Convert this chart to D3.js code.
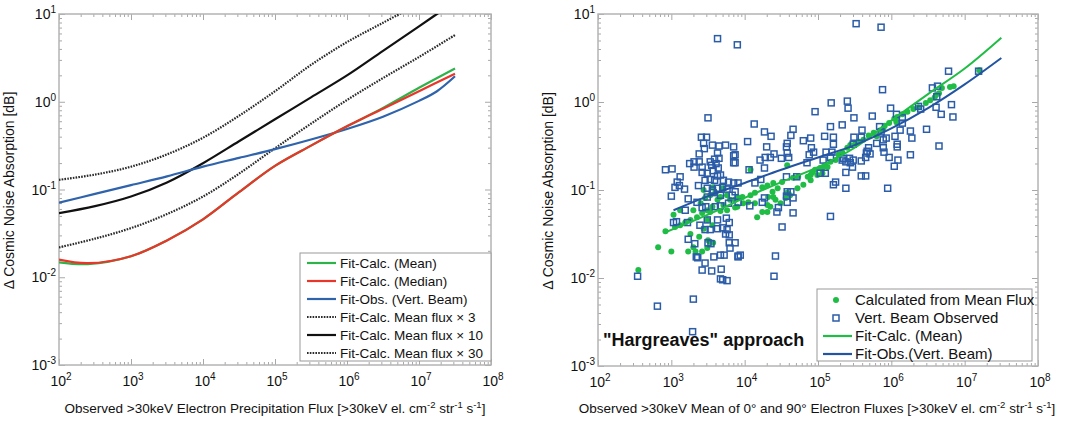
<!DOCTYPE html>
<html>
<head>
<meta charset="utf-8">
<script src="https://cdn.jsdelivr.net/npm/d3@7"></script>
<style>
  html, body { margin: 0; padding: 0; background: #fff; }
  svg { display: block; font-family: "Liberation Sans", Arial, sans-serif; }
</style>
</head>
<body>
<div id="chart"></div>
<script>
// all points are [log10 flux, log10 delta CNA in dB]

// left panel: fitted curves
const fitCalcMean = [[2.0,-1.83],[2.4,-1.85],[3.0,-1.76],[3.5,-1.58],[4.0,-1.34],[4.5,-1.03],[5.0,-0.73],[5.5,-0.50],[6.0,-0.28],[6.5,-0.07],[7.0,0.16],[7.5,0.38]];
const fitCalcMedian = [[2.0,-1.80],[2.4,-1.84],[3.0,-1.76],[3.5,-1.58],[4.0,-1.34],[4.5,-1.03],[5.0,-0.73],[5.5,-0.50],[6.0,-0.28],[6.5,-0.08],[7.0,0.12],[7.5,0.32]];
const fitObsVert = [[2.0,-1.15],[2.5,-1.05],[3.0,-0.95],[3.5,-0.85],[4.0,-0.74],[4.5,-0.64],[5.0,-0.54],[5.5,-0.43],[6.0,-0.31],[6.5,-0.17],[7.0,0.01],[7.25,0.12],[7.5,0.29]];
const fitCalcX3 = [[2.0,-1.66],[2.5,-1.56],[3.0,-1.44],[3.5,-1.28],[4.0,-1.08],[4.5,-0.82],[5.0,-0.53],[5.5,-0.25],[6.0,0.02],[6.5,0.27],[7.0,0.51],[7.5,0.76]];
const fitCalcX10 = [[2.0,-1.27],[2.5,-1.19],[3.0,-1.08],[3.5,-0.92],[4.0,-0.70],[4.5,-0.45],[5.0,-0.20],[5.5,0.05],[6.0,0.30],[6.5,0.58],[7.0,0.86],[7.5,1.14]];
const fitCalcX30 = [[2.0,-0.89],[2.5,-0.83],[3.0,-0.74],[3.5,-0.60],[4.0,-0.41],[4.5,-0.16],[5.0,0.12],[5.5,0.42],[6.0,0.68],[6.5,0.90],[7.0,1.12]];

const leftLegend = ["Fit-Calc. (Mean)", "Fit-Calc. (Median)", "Fit-Obs. (Vert. Beam)",
  "Fit-Calc. Mean flux \u00d7 3", "Fit-Calc. Mean flux \u00d7 10", "Fit-Calc. Mean flux \u00d7 30"];

// right panel: "Hargreaves" approach
const calcFromMean = [[2.55,-1.91],[2.82,-1.65],[3.00,-1.70],[2.92,-1.47],[3.05,-1.42],[3.12,-1.40],[3.19,-1.37],[3.26,-1.34],[3.35,-1.31],[3.42,-1.26],[3.30,-1.23],[3.40,-1.15],[3.46,-1.09],[3.53,-1.06],[3.60,-1.03],[3.67,-1.08],[3.76,-1.06],[3.80,-1.11],[3.87,-1.11],[3.44,-1.00],[3.63,-1.11],[3.56,-1.19],[3.49,-1.23],[3.71,-1.17],[3.76,-1.23],[3.49,-1.34],[3.56,-1.40],[3.30,-1.65],[3.23,-1.70],[3.42,-1.70],[3.53,-1.59],[3.57,-1.60],[3.90,-1.19],[3.98,-1.15],[4.05,-1.14],[4.08,-0.77],[4.17,-1.31],[4.24,-1.25],[4.31,-1.25],[4.35,-1.19],[4.42,-1.11],[4.49,-1.15],[4.56,-1.09],[4.58,-1.03],[4.62,-1.06],[4.72,-0.98],[4.80,-0.94],[4.90,-0.89],[4.99,-0.83],[5.06,-0.75],[5.13,-0.74],[4.39,-0.92],[4.45,-0.98],[4.58,-0.72],[3.90,-1.08],[3.57,-0.97],[3.70,-0.98],
  [3.03,-1.28],[3.12,-1.23],[3.53,-1.25],[3.67,-1.24],[3.87,-1.20],[3.38,-1.53],[3.26,-1.50],[3.50,-1.57],[3.49,-1.66],[3.33,-1.70],[3.44,-1.44],
  [4.24,-0.97],[4.31,-0.95],[4.51,-0.91],[4.66,-0.86],[4.73,-0.85],[4.90,-0.83],[4.96,-0.77],[5.03,-0.75],[5.10,-0.72],[5.17,-0.68],[5.24,-0.66],[5.28,-0.60],[5.33,-0.57],[5.40,-0.52],[5.44,-0.49],[5.51,-0.47],[5.55,-0.45],[5.62,-0.43],[4.08,-1.06],[4.14,-1.03],[3.97,-1.08],[4.38,-1.02],[4.32,-1.08],[4.92,-0.80],[5.06,-0.81],[4.86,-0.85],
  [4.14,-1.15],[4.39,-1.08],[4.31,-1.17],
  [5.69,-0.38],[5.76,-0.35],[5.85,-0.32],[5.91,-0.27],[5.97,-0.24],[6.04,-0.19],[6.08,-0.17],[6.15,-0.14],[6.22,-0.11],[6.30,-0.08],[6.37,-0.06],[6.47,-0.01],[6.53,0.02],[6.59,0.05],[6.65,0.10],[6.69,0.16],[6.80,0.17],[6.85,0.18],[5.89,-0.30],[6.07,-0.23],[6.61,0.08],[5.80,-0.39],[7.20,0.36]];

const vertBeamObs = [[3.63,0.72],[3.90,0.65],[5.52,0.89],[5.86,0.85],[3.50,-0.18],[4.13,-0.25],[4.96,-0.11],[5.18,-0.01],[5.40,0.01],[5.41,-0.07],[5.88,0.14],[5.49,-0.18],[5.74,-0.16],[5.99,-0.07],[6.07,-0.14],[6.15,-0.18],[6.37,-0.05],[6.40,-0.08],[6.56,0.16],[6.63,0.18],[6.78,0.35],[7.19,0.35],[6.61,-0.06],[6.82,-0.03],[6.84,-0.17],[6.48,-0.31],[6.65,-0.50],[5.95,-0.98],[5.17,-0.28],[5.21,-0.40],[5.33,-0.26],[5.49,-0.40],[5.60,-0.32],
  [6.62,0.06],[6.68,-0.14],[5.84,-0.28],[5.86,-0.34],[6.12,-0.32],[6.15,-0.24],[6.26,-0.33],[6.28,-0.41],[6.05,-0.39],[5.93,-0.41],[5.89,-0.43],[5.80,-0.47],[5.69,-0.52],[5.71,-0.59],[5.89,-0.52],[5.90,-0.57],[6.08,-0.51],[5.97,-0.63],[6.09,-0.66],[6.04,-0.73],[6.26,-0.60],[5.65,-0.84],[5.65,-0.63],
  [5.35,-0.64],[5.43,-0.64],[5.67,-0.56],[6.08,-0.48],
  [4.27,-0.34],[4.36,-0.39],[4.66,-0.31],[4.63,-0.38],[5.09,-0.39],[4.04,-0.45],[4.30,-0.51],[4.57,-0.51],[4.58,-0.47],[4.80,-0.44],[4.90,-0.41],[4.91,-0.52],[4.88,-0.60],[4.94,-0.57],[5.21,-0.48],[5.11,-0.57],[5.19,-0.57],[5.48,-0.48],[5.59,-0.40],[4.21,-0.66],[4.28,-0.63],[4.35,-0.63],[4.40,-0.59],[4.50,-0.64],[4.60,-0.63],[4.58,-0.58],[3.87,-0.60],[3.87,-0.69],[4.06,-0.77],[4.27,-0.75],[4.85,-0.69],[5.07,-0.66],[5.10,-0.81],[5.03,-0.81],[5.17,-0.63],[5.33,-0.66],[5.38,-0.68],[5.44,-0.69],[5.48,-0.66],[5.59,-0.67],[5.47,-0.74],[5.38,-0.80],[5.59,-0.84],[5.66,-0.58],[4.57,-0.85],[4.71,-0.85],[4.22,-0.88],[4.14,-0.92],[3.91,-0.92],[5.21,-0.94],[5.24,-0.91],[5.38,-0.98],[4.58,-1.02],[4.63,-1.02],[3.87,-1.02],[4.57,-1.07],
  [3.91,-1.14],[4.07,-1.18],[4.24,-1.14],[4.27,-1.09],[4.46,-1.20],[4.44,-1.25],[4.58,-1.14],[4.66,-1.09],[4.66,-1.26],[4.51,-1.42],[5.17,-1.30],[3.91,-1.75],[4.42,-1.75],[4.40,-1.98],[3.87,-1.60],
  [2.54,-1.98],[2.81,-2.32],[3.30,-2.24],[3.29,-2.61],[3.55,-1.92],[3.67,-2.01],[3.76,-2.03],[3.68,-1.90],[3.42,-1.91],[3.46,-1.83],[3.50,-1.60],[3.23,-1.56],[3.22,-1.37],[3.03,-1.37],[3.34,-1.76],[3.67,-1.74],[3.79,-1.60],[3.80,-1.66],[3.74,-1.50],[3.94,-1.74],
  [3.19,-1.23],[3.42,-1.20],[3.60,-1.19],[3.07,-1.36],[3.49,-1.34],[3.63,-1.34],[3.75,-1.32],[3.79,-1.37],[3.39,-1.40],[3.46,-1.45],[3.53,-1.45],[3.63,-1.44],[3.70,-1.43],[3.76,-1.45],[3.79,-1.51],[3.32,-1.61],[3.54,-1.61],[3.91,-1.76],[3.36,-1.77],[3.58,-1.76],[3.72,-1.74],[3.70,-2.02],
  [3.41,-0.40],[3.48,-0.40],[3.44,-0.47],[3.56,-0.49],[3.65,-0.50],[3.74,-0.49],[3.85,-0.51],[3.38,-0.59],[3.45,-0.53],[3.63,-0.58],[3.59,-0.65],[3.53,-0.68],[3.65,-0.64],[3.85,-0.61],[3.85,-0.69],[3.25,-0.70],[3.31,-0.68],[3.38,-0.68],[3.31,-0.74],[3.42,-0.74],[3.55,-0.72],[3.61,-0.70],[3.64,-0.75],[2.92,-0.77],[3.01,-0.76],[3.42,-0.80],[3.49,-0.81],[3.57,-0.78],[3.67,-0.83],[3.12,-0.85],[3.08,-0.91],[3.05,-0.97],[3.11,-0.95],[3.18,-0.99],[3.37,-0.95],[3.46,-0.89],[3.53,-0.88],[3.59,-0.89],[3.63,-0.84],[3.71,-0.89],[3.78,-0.91],[3.85,-0.92],[3.49,-0.98],[3.56,-1.00],[3.63,-0.98],[3.70,-0.97],[3.76,-0.99],[3.00,-1.07],[3.23,-1.10],[3.35,-1.14],[3.49,-1.08],[3.57,-1.03],[3.67,-1.06],[3.83,-1.06],[3.47,-1.19],[3.67,-1.18],[3.78,-1.15]];

const hargFitCalc = [[2.92,-1.48],[3.5,-1.28],[4.0,-1.09],[4.5,-0.91],[5.0,-0.74],[5.5,-0.52],[6.0,-0.21],[6.5,0.09],[7.0,0.38],[7.5,0.73]];
const hargFitObs = [[3.03,-1.23],[3.5,-1.07],[4.0,-0.92],[4.5,-0.77],[5.0,-0.63],[5.5,-0.49],[6.0,-0.30],[6.5,-0.07],[7.0,0.20],[7.5,0.50]];

const rightLegend = ["Calculated from Mean Flux", "Vert. Beam Observed", "Fit-Calc. (Mean)", "Fit-Obs.(Vert. Beam)"];

const xExponents = [2, 3, 4, 5, 6, 7, 8];
const yExponents = [-3, -2, -1, 0, 1];

const GREEN = "#2db34a", RED = "#e8362b", BLUE = "#2f63ab";
const DOTS = "#1fbd45", SQUARES = "#2b5ca8", DARKBLUE = "#2354a3";

const svg = d3.select("#chart").append("svg")
    .attr("width", 1070)
    .attr("height", 422);

function addPow(sel, exp, supSize) {
    sel.append("tspan").text("10");
    sel.append("tspan").attr("dy", -6).attr("font-size", supSize).text(exp);
}

function panel(box, id) {
    const x = d3.scaleLog().domain([1e2, 1e8]).range([box.x0, box.x1]);
    const y = d3.scaleLog().domain([1e-3, 1e1]).range([box.y1, box.y0]);
    const g = svg.append("g");

    const isPow = v => Math.abs(Math.log10(v) - Math.round(Math.log10(v))) < 1e-6;
    const xMinor = x.ticks().filter(v => !isPow(v));
    const yMinor = y.ticks().filter(v => !isPow(v));
    const xMajor = xExponents.map(e => 10 ** e);
    const yMajor = yExponents.map(e => 10 ** e);

    const axes = [
        [d3.axisBottom(x), `translate(0,${box.y1})`, xMinor, xMajor],
        [d3.axisTop(x), `translate(0,${box.y0})`, xMinor, xMajor],
        [d3.axisLeft(y), `translate(${box.x0},0)`, yMinor, yMajor],
        [d3.axisRight(y), `translate(${box.x1},0)`, yMinor, yMajor]
    ];
    axes.forEach(([ax, tr, minor, major]) => {
        [[minor, -3], [major, -6]].forEach(([vals, size]) => {
            const a = g.append("g").attr("transform", tr)
                .call(ax.tickValues(vals).tickSize(size).tickFormat(""));
            a.select(".domain").remove();
            a.selectAll("line").attr("stroke", "#a8a8a8").attr("stroke-width", 1);
        });
    });

    g.append("rect")
        .attr("x", box.x0).attr("y", box.y0)
        .attr("width", box.x1 - box.x0).attr("height", box.y1 - box.y0)
        .attr("fill", "none").attr("stroke", "#b4b4b4").attr("stroke-width", 1.5);

    // tick labels
    xExponents.forEach(e => {
        const t = g.append("text")
            .attr("x", x(10 ** e) + 2).attr("y", box.y1 + 21)
            .attr("text-anchor", "middle").attr("font-size", 14).attr("fill", "#111");
        addPow(t, e, 10);
    });
    yExponents.forEach(e => {
        const t = g.append("text")
            .attr("x", box.x0 - 3).attr("y", y(10 ** e) + 5)
            .attr("text-anchor", "end").attr("font-size", 14).attr("fill", "#111");
        addPow(t, e, 10);
    });

    // y title
    g.append("text")
        .attr("transform", `translate(${box.x0 - 45},${(box.y0 + box.y1) / 2 + 1}) rotate(-90)`)
        .attr("text-anchor", "middle").attr("font-size", 14).attr("fill", "#111")
        .text("\u0394 Cosmic Noise Absorption [dB]");

    svg.append("clipPath").attr("id", id)
        .append("rect")
        .attr("x", box.x0).attr("y", box.y0)
        .attr("width", box.x1 - box.x0).attr("height", box.y1 - box.y0);
    const plot = svg.append("g").attr("clip-path", `url(#${id})`);
    return { x, y, g, plot };
}

function xTitle(g, cx, prefix) {
    const t = g.append("text")
        .attr("x", cx).attr("y", 413)
        .attr("text-anchor", "middle").attr("font-size", 13.5).attr("fill", "#111");
    t.append("tspan").text(prefix + " [>30keV el. cm");
    t.append("tspan").attr("dy", -5).attr("font-size", 9.5).text("-2");
    t.append("tspan").attr("dy", 5).text(" str");
    t.append("tspan").attr("dy", -5).attr("font-size", 9.5).text("-1");
    t.append("tspan").attr("dy", 5).text(" s");
    t.append("tspan").attr("dy", -5).attr("font-size", 9.5).text("-1");
    t.append("tspan").attr("dy", 5).text("]");
}

// ---------- left panel ----------
const L = panel({ x0: 59, x1: 491, y0: 14, y1: 365 }, "clipL");
xTitle(L.g, 275, "Observed >30keV Electron Precipitation Flux");

const lineL = d3.line()
    .x(d => L.x(10 ** d[0]))
    .y(d => L.y(10 ** d[1]))
    .curve(d3.curveCatmullRom.alpha(0.5));

const leftSeries = [
    { data: fitCalcX30, color: "#2a2a2a", dash: "1.6 1.2" },
    { data: fitCalcX10, color: "#111", dash: null },
    { data: fitCalcX3, color: "#2a2a2a", dash: "1.6 1.2" },
    { data: fitObsVert, color: BLUE, dash: null },
    { data: fitCalcMean, color: GREEN, dash: null },
    { data: fitCalcMedian, color: RED, dash: null }
];
leftSeries.forEach(s => {
    L.plot.append("path")
        .datum(s.data)
        .attr("d", lineL)
        .attr("fill", "none")
        .attr("stroke", s.color)
        .attr("stroke-width", 2.2)
        .attr("stroke-dasharray", s.dash);
});

// left legend
const legL = svg.append("g");
legL.append("rect").attr("x", 300).attr("y", 253).attr("width", 191).attr("height", 108)
    .attr("fill", "#fff").attr("stroke", "#999").attr("stroke-width", 1);
const legStyles = [
    [GREEN, null], [RED, null], [BLUE, null],
    ["#2a2a2a", "1.6 1.2"], ["#111", null], ["#2a2a2a", "1.6 1.2"]
];
leftLegend.forEach((name, i) => {
    const yy = 263 + i * 18;
    legL.append("line").attr("x1", 307).attr("x2", 336).attr("y1", yy).attr("y2", yy)
        .attr("stroke", legStyles[i][0]).attr("stroke-width", 2.2)
        .attr("stroke-dasharray", legStyles[i][1]);
    legL.append("text").attr("x", 340).attr("y", yy + 5)
        .attr("font-size", 13.5).attr("fill", "#111").text(name);
});

// ---------- right panel ----------
const R = panel({ x0: 598, x1: 1038, y0: 14, y1: 366 }, "clipR");
xTitle(R.g, 817, "Observed >30keV Mean of 0\u00b0 and 90\u00b0 Electron Fluxes");

R.plot.append("g")
    .selectAll("circle")
    .data(calcFromMean)
    .join("circle")
    .attr("cx", d => R.x(10 ** d[0]))
    .attr("cy", d => R.y(10 ** d[1]))
    .attr("r", 3)
    .attr("fill", DOTS);

R.plot.append("g")
    .selectAll("rect")
    .data(vertBeamObs)
    .join("rect")
    .attr("x", d => R.x(10 ** d[0]) - 3)
    .attr("y", d => R.y(10 ** d[1]) - 3)
    .attr("width", 6)
    .attr("height", 6)
    .attr("fill", "none")
    .attr("stroke", SQUARES)
    .attr("stroke-width", 1.5);

const lineR = d3.line()
    .x(d => R.x(10 ** d[0]))
    .y(d => R.y(10 ** d[1]))
    .curve(d3.curveCatmullRom.alpha(0.5));

[[hargFitCalc, DOTS], [hargFitObs, DARKBLUE]].forEach(([data, color]) => {
    R.plot.append("path")
        .datum(data)
        .attr("d", lineR)
        .attr("fill", "none")
        .attr("stroke", color)
        .attr("stroke-width", 2);
});

svg.append("text")
    .attr("x", 603).attr("y", 346)
    .attr("font-size", 18).attr("font-weight", "bold").attr("fill", "#111")
    .text("\"Hargreaves\" approach");

// right legend
const legR = svg.append("g");
legR.append("rect").attr("x", 817).attr("y", 289).attr("width", 215).attr("height", 72)
    .attr("fill", "#fff").attr("stroke", "#999").attr("stroke-width", 1);
rightLegend.forEach((name, i) => {
    const yy = 300 + i * 18;
    if (i === 0) {
        legR.append("circle").attr("cx", 836).attr("cy", yy).attr("r", 3).attr("fill", DOTS);
    } else if (i === 1) {
        legR.append("rect").attr("x", 833).attr("y", yy - 3).attr("width", 6).attr("height", 6)
            .attr("fill", "none").attr("stroke", SQUARES).attr("stroke-width", 1.5);
    } else {
        legR.append("line").attr("x1", 823).attr("x2", 852).attr("y1", yy).attr("y2", yy)
            .attr("stroke", i === 2 ? DOTS : DARKBLUE).attr("stroke-width", 2.2);
    }
    legR.append("text").attr("x", 855).attr("y", yy + 5)
        .attr("font-size", 15).attr("fill", "#111").text(name);
});
</script>
</body>
</html>
